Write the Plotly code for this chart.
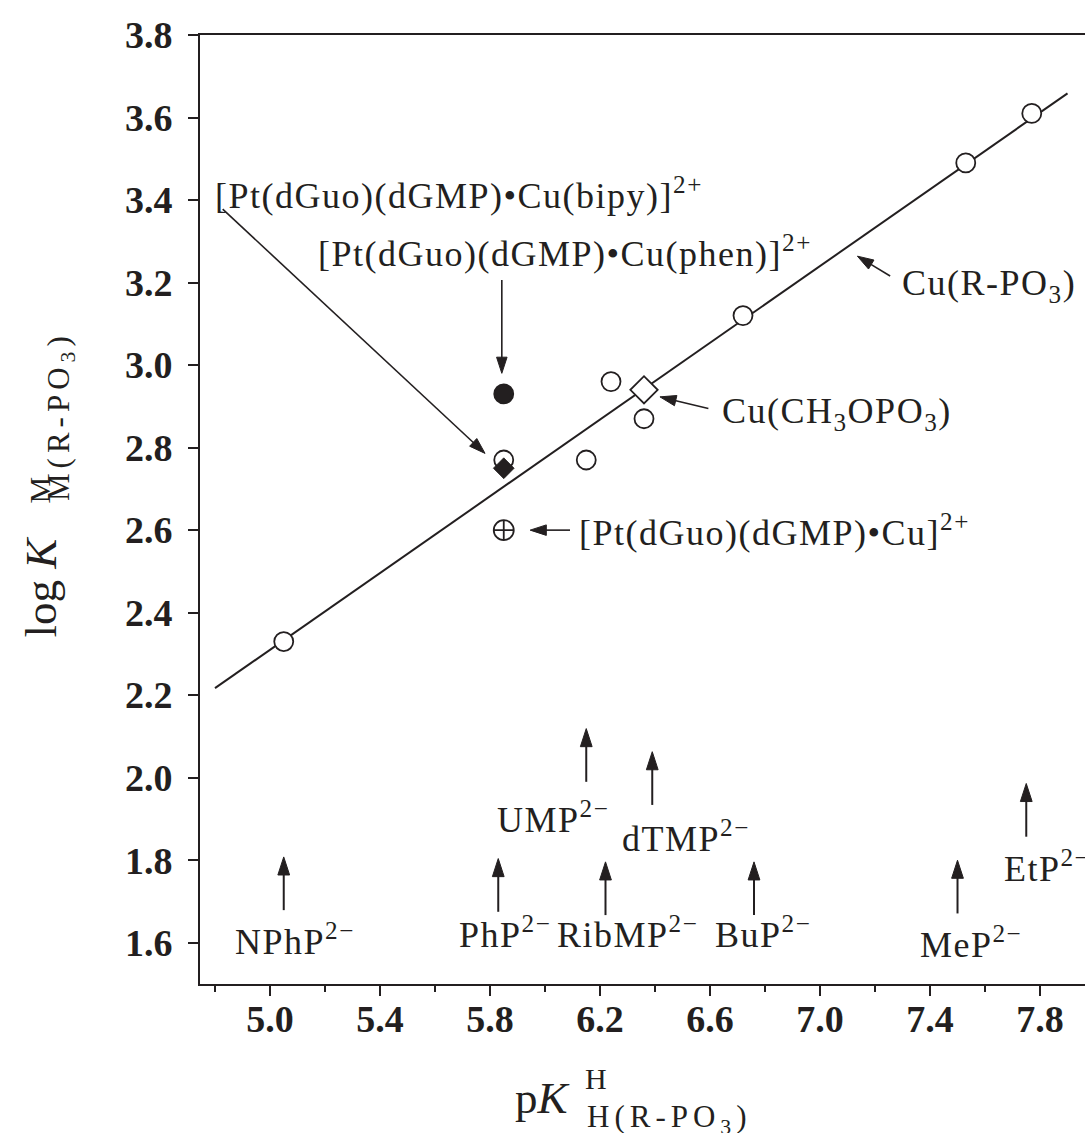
import numpy as np
import plotly.graph_objects as go

INK = "#231f20"
FONT = "Liberation Serif"

# Cu(R-PO3) complexes: acidity constant vs. stability constant
pka_ref = [5.05, 5.85, 6.15, 6.24, 6.36, 6.72, 7.53, 7.77]
logk_ref = [2.33, 2.77, 2.77, 2.96, 2.87, 3.12, 3.49, 3.61]

# Cu(CH3OPO3)
pka_meo = 6.36
logk_meo = 2.94

# Pt(dGuo)(dGMP) ternary / binary copper complexes
pka_pt = 5.85
logk_pt_phen = 2.93
logk_pt_bipy = 2.75
logk_pt_cu = 2.60

# Reference straight line log K = m * pKa + b
slope, intercept = 0.465, -0.015
line_x = np.array([4.8, 7.9])
line_y = slope * line_x + intercept

# Ligands marked along the pKa axis
lig_names = ["NPhP", "PhP", "UMP", "RibMP", "dTMP", "BuP", "MeP", "EtP"]
lig_pka = [5.05, 5.83, 6.15, 6.22, 6.39, 6.76, 7.50, 7.75]

# Placement of the ligand arrows (tip level) and their labels
lig_tip_y = [1.808, 1.804, 2.119, 1.796, 2.063, 1.796, 1.800, 1.986]
lig_arrow_len = 0.129
lig_label_x = [4.864, 5.679, 5.818, 6.036, 6.273, 6.612, 7.358, 7.661]
lig_label_y = [1.607, 1.624, 1.903, 1.624, 1.857, 1.624, 1.600, 1.784]

fig = go.Figure()


def add_arrow(tail, tip, width=1.6, head=17):
    """Straight arrow from tail to tip with a filled head at the tip."""
    fig.add_trace(go.Scatter(
        x=[tail[0], tip[0]], y=[tail[1], tip[1]], mode="lines+markers",
        line=dict(color=INK, width=width),
        marker=dict(symbol="arrow", angleref="previous", size=[0, head],
                    color=INK, opacity=1, line=dict(width=1, color=INK)),
        hoverinfo="skip", showlegend=False))


fig.add_trace(go.Scatter(x=line_x, y=line_y, mode="lines",
                         line=dict(color=INK, width=2), showlegend=False))
fig.add_trace(go.Scatter(x=pka_ref, y=logk_ref, mode="markers",
                         marker=dict(symbol="circle", size=19, color="white",
                                     line=dict(color=INK, width=1.8)),
                         showlegend=False))
fig.add_trace(go.Scatter(x=[pka_meo], y=[logk_meo], mode="markers",
                         marker=dict(symbol="diamond", size=21, color="white",
                                     line=dict(color=INK, width=1.8)),
                         showlegend=False))
fig.add_trace(go.Scatter(x=[pka_pt], y=[logk_pt_phen], mode="markers",
                         marker=dict(symbol="circle", size=19, color=INK,
                                     line=dict(color=INK, width=1.8)),
                         showlegend=False))
fig.add_trace(go.Scatter(x=[pka_pt], y=[logk_pt_cu], mode="markers",
                         marker=dict(symbol="circle-cross-open", size=20, color=INK,
                                     line=dict(color=INK, width=1.8)),
                         showlegend=False))
fig.add_trace(go.Scatter(x=[pka_pt], y=[logk_pt_bipy], mode="markers",
                         marker=dict(symbol="diamond", size=16, color=INK,
                                     line=dict(color=INK, width=0.8)),
                         showlegend=False))


def spaced(text, ls=1.5):
    return f'<span style="letter-spacing:{ls}px">{text}</span>'


def label(x, y, text, size=36, ls=1.5):
    fig.add_annotation(x=x, y=y, xref="x", yref="y", text=spaced(text, ls),
                       showarrow=False, xanchor="left", yanchor="middle",
                       font=dict(family=FONT, size=size, color=INK))


# Complex labels with pointer arrows
label(4.793, 3.415, "[Pt(dGuo)(dGMP)•Cu(bipy)]<sup>2+</sup>")
add_arrow((4.828, 3.378), (pka_pt - 0.068, logk_pt_bipy + 0.036))

label(5.167, 3.275, "[Pt(dGuo)(dGMP)•Cu(phen)]<sup>2+</sup>")
add_arrow((pka_pt - 0.007, logk_pt_phen + 0.276), (pka_pt - 0.007, logk_pt_phen + 0.05))

label(7.291, 3.194, "Cu(R-PO<sub>3</sub>)")
add_arrow((7.255, 3.216), (7.136, 3.264))

label(6.636, 2.883, "Cu(CH<sub>3</sub>OPO<sub>3</sub>)")
add_arrow((pka_meo + 0.234, logk_meo - 0.045), (pka_meo + 0.058, logk_meo - 0.017))

label(6.116, 2.600, "[Pt(dGuo)(dGMP)•Cu]<sup>2+</sup>")
add_arrow((pka_pt + 0.241, logk_pt_cu), (pka_pt + 0.096, logk_pt_cu))

# Ligand markers along the bottom
for name, xp, ty, lx, ly in zip(lig_names, lig_pka, lig_tip_y, lig_label_x, lig_label_y):
    add_arrow((xp, ty - lig_arrow_len), (xp, ty), width=2, head=19)
    label(lx, ly, f"{name}<sup>2−</sup>")

# Axis titles assembled from pieces (stacked super/subscripts)
title_font = dict(family=FONT, size=45, color=INK)
sup_font = dict(family=FONT, size=30, color=INK)
sub_font = dict(family=FONT, size=31, color=INK)

fig.add_annotation(x=-0.1797, y=(984 - 639) / 949, xref="paper", yref="paper",
                   text="log <i>K</i>", textangle=-90, showarrow=False,
                   xanchor="center", yanchor="bottom", font=title_font)
fig.add_annotation(x=-0.1808, y=(984 - 505) / 949, xref="paper", yref="paper",
                   text="M", textangle=-90, showarrow=False,
                   xanchor="center", yanchor="bottom", font=sup_font)
fig.add_annotation(x=-0.1571, y=(984 - 503) / 949, xref="paper", yref="paper",
                   text=spaced("M(R-PO<sub>3</sub>)", 5), textangle=-90, showarrow=False,
                   xanchor="center", yanchor="bottom", font=sub_font)

fig.add_annotation(x=0.3537, y=-0.1201, xref="paper", yref="paper",
                   text="p<i>K</i>", showarrow=False,
                   xanchor="left", yanchor="middle", font=title_font)
fig.add_annotation(x=0.4328, y=-0.1001, xref="paper", yref="paper",
                   text="H", showarrow=False,
                   xanchor="left", yanchor="middle", font=sup_font)
fig.add_annotation(x=0.4350, y=-0.1422, xref="paper", yref="paper",
                   text=spaced("H(R-PO<sub>3</sub>)", 5), showarrow=False,
                   xanchor="left", yanchor="middle", font=sub_font)

tick_font = dict(family=FONT, size=38, color=INK, weight="bold")

fig.update_xaxes(range=[4.7455, 7.9636], tickmode="linear", tick0=5.0, dtick=0.4,
                 tickformat=".1f", ticks="outside", ticklen=10, tickwidth=2,
                 tickcolor=INK, showline=True, linewidth=2, linecolor=INK,
                 mirror=True, showgrid=False, zeroline=False, tickfont=tick_font,
                 ticklabelstandoff=-10,
                 minor=dict(tick0=5.0, dtick=0.2, ticks="outside", ticklen=6,
                            tickwidth=2, tickcolor=INK, showgrid=False))
fig.update_yaxes(range=[1.5, 3.8], tickmode="linear", tick0=1.6, dtick=0.2,
                 tickformat=".1f", ticks="outside", ticklen=10, tickwidth=2,
                 tickcolor=INK, showline=True, linewidth=2, linecolor=INK,
                 showgrid=False, zeroline=False, tickfont=tick_font,
                 ticklabelstandoff=8)

fig.update_layout(width=1085, height=1133, autosize=False,
                  margin=dict(l=200, r=0, t=35, b=149),
                  plot_bgcolor="white", paper_bgcolor="white",
                  font=dict(family=FONT, color=INK), showlegend=False)

fig.write_html("out.html")
